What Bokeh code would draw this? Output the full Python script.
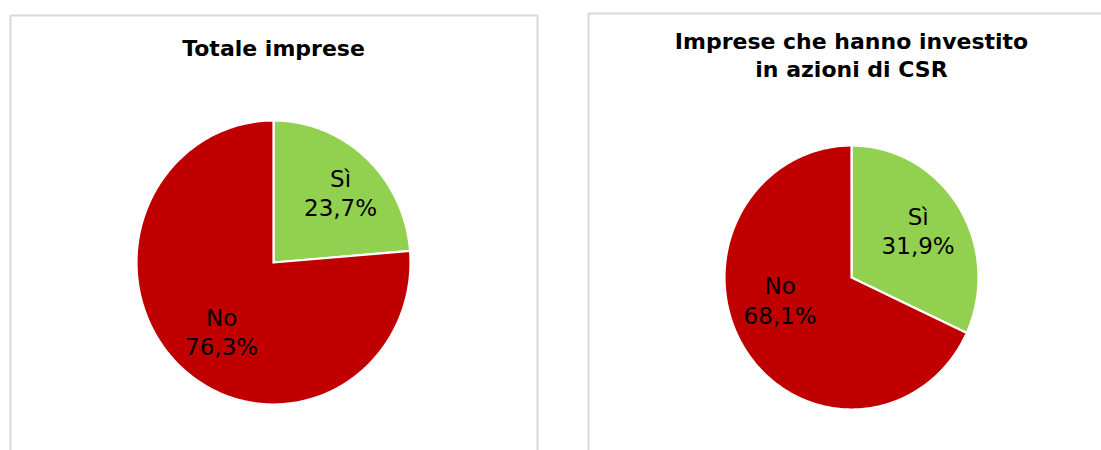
import numpy as np
from bokeh.plotting import figure
from bokeh.models import Range1d
from bokeh.core.properties import value
from bokeh.embed import file_html
from bokeh.resources import INLINE

# ---- data ----
titles = ["Totale imprese", "Imprese che hanno investito\nin azioni di CSR"]
categories = ["Sì", "No"]
values_totale = [23.7, 76.3]
values_csr = [31.9, 68.1]
pct_labels_totale = ["23,7%", "76,3%"]
pct_labels_csr = ["31,9%", "68,1%"]

# ---- style / layout ----
colors = ["#92D050", "#C00000"]
border_color = "#D9D9D9"
W, H = 1101, 450
panels = [
    dict(cx=273, cy=262, rx=137, ry=142, title_y=48, box=(10, 537, 15),
         lab=[(0.69, -2.5), (0.62, 5.0)]),
    dict(cx=851, cy=277, rx=127, ry=132, title_y=55, box=(588, 1120, 13),
         lab=[(0.63, 1.0), (0.59, -15.0)]),
]
series = [values_totale, values_csr]
pct_labels = [pct_labels_totale, pct_labels_csr]

p = figure(width=W, height=H, x_range=Range1d(0, W), y_range=Range1d(-H, 0),
           output_backend="svg", toolbar_location=None,
           x_axis_type=None, y_axis_type=None, min_border=0)
p.grid.visible = False
p.outline_line_color = None
p.background_fill_color = "white"
p.border_fill_color = "white"

for k, pan in enumerate(panels):
    vals = np.array(series[k], dtype=float)
    frac = vals / vals.sum()
    cum = np.concatenate([[0], np.cumsum(frac)])
    cx, cy, rx, ry = pan["cx"], -pan["cy"], pan["rx"], pan["ry"]

    # panel frame
    l, r, t = pan["box"]
    p.line([l, l, r, r], [-470, -t, -t, -470], line_color=border_color, line_width=2)

    xs, ys = [], []
    for i in range(len(vals)):
        a0 = np.pi / 2 - 2 * np.pi * cum[i]
        a1 = np.pi / 2 - 2 * np.pi * cum[i + 1]
        tt = np.linspace(a0, a1, 240)
        xs.append(np.concatenate([[cx], cx + rx * np.cos(tt)]))
        ys.append(np.concatenate([[cy], cy + ry * np.sin(tt)]))
    p.patches(xs, ys, fill_color=colors, line_color="white", line_width=2.2,
              line_join="miter")

    # slice labels
    lx, ly, lt = [], [], []
    for i in range(len(vals)):
        mid = np.pi / 2 - 2 * np.pi * (cum[i] + cum[i + 1]) / 2
        f, off = pan["lab"][i]
        ang = mid + np.deg2rad(off)
        lx.append(cx + f * rx * np.cos(ang))
        ly.append(cy + f * ry * np.sin(ang))
        lt.append(categories[i] + "\n" + pct_labels[k][i])
    p.text(lx, ly, text=lt, text_font=value("DejaVu Sans"), text_font_size="23px",
           text_align="center", text_baseline="middle", text_color="black",
           text_line_height=1.12)

    # title
    p.text([pan["cx"]], [-pan["title_y"]], text=[titles[k]], text_font=value("DejaVu Sans"),
           text_font_style="bold", text_font_size="22px", text_align="center",
           text_baseline="middle", text_color="black", text_line_height=1.1)

open("out.html", "w").write(file_html(p, INLINE))
